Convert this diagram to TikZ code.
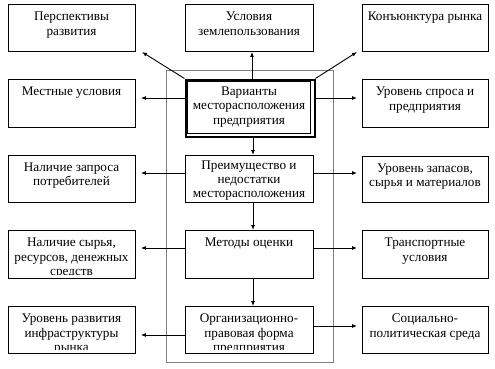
\documentclass[tikz,border=0pt]{standalone}
\usepackage{fontspec}
\setmainfont{Liberation Serif}
\usetikzlibrary{arrows.meta}
\tikzset{
  box/.style={draw, line width=0.9pt, inner sep=0pt, fill=white, anchor=north west},
  txt/.style={align=center, inner sep=0pt, anchor=north, font=\fontsize{13.2}{14.5}\selectfont},
  tight/.style={font=\fontsize{13.2}{13.8}\selectfont},
  arr/.style={line width=0.9pt, -{Latex[length=5pt,width=4pt]}},
  frame/.style={draw=black!50, line width=0.9pt}
}
% #1 extra text style, #2 name, #3 x, #4 y, #5 w, #6 h, #7 text, #8 text offset
\newcommand\mybox[8][]{%
  \node[box, minimum width=#5pt, minimum height=#6pt] (#2) at (#3,#4) {};
  \begin{scope}
    \clip ([yshift=4pt]#2.south west) rectangle (#2.north east);
    \node[txt,#1] (#2t) at ({#3+#5/2},{#4+#8}) {\rule{0pt}{10pt}#7};
  \end{scope}}
\begin{document}
\begin{tikzpicture}[x=1pt,y=-1pt]
\useasboundingbox (0,0) rectangle (495,368);
\draw[frame] (166,70) rectangle (333,362);
% left column
\mybox{p1}{8}{4}{127}{47}{Перспективы\\развития}{6.5}
\mybox{p2}{8}{79}{127}{48}{Местные условия}{6.5}
\mybox{p3}{8}{155}{127}{47}{Наличие запроса\\потребителей}{6}
\mybox{p4}{8}{230}{127}{48}{Наличие сырья,\\ресурсов, денежных\\средств}{6.5}
\mybox{p5}{8}{306}{127}{47}{Уровень развития\\инфраструктуры\\рынка}{6.5}
% middle column
\mybox{u}{185}{4}{128}{47}{Условия\\землепользования}{6.5}
\node[box, line width=2pt, minimum width=129pt, minimum height=57pt] (v) at (184.5,78.5) {};
\draw[line width=0.7pt] (187.5,81.5) rectangle (310.5,133);
\node[txt] (vt) at (249,85) {\rule{0pt}{10pt}Варианты\\месторасположения\\предприятия};
\node[box, minimum width=128pt, minimum height=47pt] (m3) at (185,155) {};
\node[txt,tight] (m3t) at (249,159.5) {\rule{0pt}{10pt}Преимущество и\\недостатки\\месторасположения};
\mybox{m4}{185}{230}{128}{48}{Методы оценки}{6.5}
\mybox{m5}{185}{306}{128}{47}{Организационно-\\правовая форма\\предприятия}{6.5}
% right column
\mybox{r1}{362}{4}{126}{47}{Конъюнктура рынка}{6.5}
\mybox{r2}{362}{79}{126}{48}{Уровень спроса и\\предприятия}{6.5}
\mybox{r3}{362}{156}{126}{46}{Уровень запасов,\\сырья и материалов}{6}
\mybox{r4}{362}{230}{126}{48}{Транспортные\\условия}{6.5}
\mybox{r5}{362}{306}{126}{47}{Социально-\\политическая среда}{6.5}
% helper coordinates
\coordinate (q1) at (142,52);
\coordinate (q2) at (357,52);
\coordinate (y2) at (0,98);
\coordinate (y3) at (0,173);
\coordinate (y4) at (0,248);
\coordinate (y5l) at (0,335);
\coordinate (y5r) at (0,326);
\coordinate (cx) at (253,0);
\coordinate (ux) at (252,0);
% connectors
\draw[arr] (v.north west) -- (q1);
\draw[arr] (v.north east) -- (q2);
\draw[arr] (v.north -| ux) -- (u.south -| ux);
\draw[arr, shorten >=5pt] (v.west |- y2) -- (p2.east |- y2);
\draw[arr, shorten >=5pt] (v.east |- y2) -- (r2.west |- y2);
\draw[arr, shorten >=5pt] (m3.west |- y3) -- (p3.east |- y3);
\draw[arr, shorten >=5pt] (m3.east |- y3) -- (r3.west |- y3);
\draw[arr, shorten >=5pt] (m4.west |- y4) -- (p4.east |- y4);
\draw[arr, shorten >=5pt] (m4.east |- y4) -- (r4.west |- y4);
\draw[arr, shorten >=5pt] (m5.west |- y5l) -- (p5.east |- y5l);
\draw[arr, shorten >=5pt] (m5.east |- y5r) -- (r5.west |- y5r);
\draw[arr] (v.south -| cx) -- (m3.north -| cx);
\draw[arr] (m3.south -| cx) -- (m4.north -| cx);
\draw[arr] (m4.south -| cx) -- (m5.north -| cx);
\end{tikzpicture}
\end{document}
